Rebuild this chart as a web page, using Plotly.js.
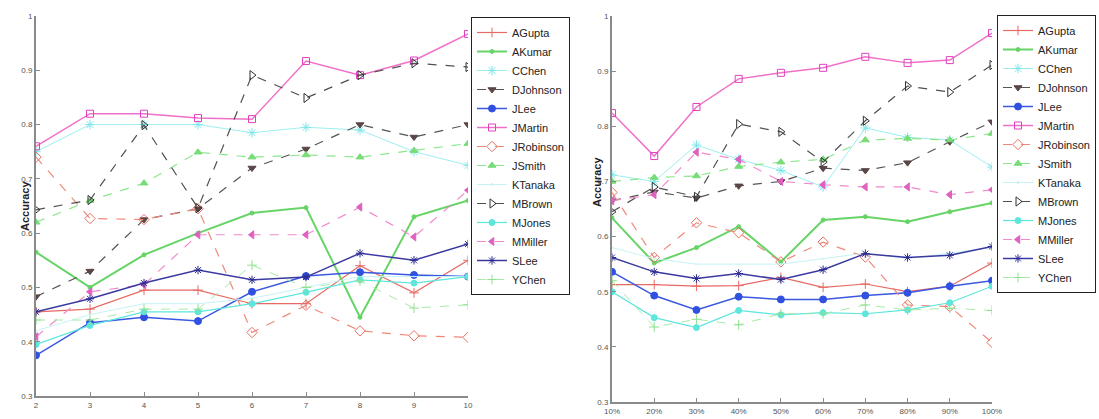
<!DOCTYPE html>
<html>
<head>
<meta charset="utf-8">
<script src="https://cdn.plot.ly/plotly-3.0.1.min.js"></script>
<style>html,body{margin:0;padding:0;background:#fff;}#chart{width:1099px;height:419px;}</style>
</head>
<body>
<div id="chart"></div>
<script>
// ---- data ----
const names = ["AGupta","AKumar","CChen","DJohnson","JLee","JMartin","JRobinson","JSmith","KTanaka","MBrown","MJones","MMiller","SLee","YChen"];

// left plot: x = 2..10
const xLeft = [2,3,4,5,6,7,8,9,10];
const aguptaL    = [0.455,0.46,0.495,0.495,0.47,0.47,0.54,0.49,0.55];
const akumarL    = [0.565,0.50,0.56,0.60,0.637,0.647,0.445,0.63,0.66];
const cchenL     = [0.75,0.80,0.80,0.80,0.785,0.795,0.79,0.75,0.725];
const djohnsonL  = [0.483,0.53,0.625,0.645,0.72,0.755,0.80,0.777,0.80];
const jleeL      = [0.375,0.435,0.445,0.438,0.492,0.521,0.528,0.523,0.52];
const jmartinL   = [0.76,0.82,0.82,0.812,0.81,0.917,0.891,0.918,0.967];
const jrobinsonL = [0.74,0.627,0.625,0.645,0.417,0.467,0.42,0.411,0.408];
const jsmithL    = [0.62,0.66,0.692,0.749,0.74,0.744,0.74,0.752,0.765];
const ktanakaL   = [0.42,0.45,0.47,0.47,0.48,0.50,0.52,0.52,0.52];
const mbrownL    = [0.643,0.661,0.799,0.646,0.891,0.849,0.891,0.913,0.906];
const mjonesL    = [0.395,0.43,0.455,0.455,0.47,0.491,0.514,0.508,0.52];
const mmillerL   = [0.409,0.492,0.505,0.597,0.597,0.597,0.648,0.593,0.679];
const sleeL      = [0.455,0.479,0.508,0.532,0.514,0.519,0.563,0.55,0.58];
const ychenL     = [0.44,0.44,0.46,0.46,0.541,0.50,0.512,0.462,0.468];

// right plot: percentages
const xRight = ["10%","20%","30%","40%","50%","60%","70%","80%","90%","100%"];
const aguptaR    = [0.513,0.513,0.51,0.511,0.526,0.508,0.514,0.50,0.51,0.552];
const akumarR    = [0.634,0.552,0.58,0.618,0.554,0.63,0.636,0.627,0.645,0.661];
const cchenR     = [0.712,0.70,0.766,0.74,0.72,0.69,0.797,0.78,0.775,0.726];
const djohnsonR  = [0.665,0.681,0.67,0.692,0.70,0.724,0.72,0.734,0.772,0.808];
const jleeR      = [0.536,0.493,0.467,0.491,0.486,0.486,0.493,0.498,0.51,0.52];
const jmartinR   = [0.824,0.746,0.835,0.886,0.897,0.906,0.926,0.915,0.92,0.969];
const jrobinsonR = [0.68,0.562,0.625,0.607,0.554,0.59,0.563,0.476,0.473,0.408];
const jsmithR    = [0.70,0.707,0.71,0.727,0.735,0.74,0.775,0.778,0.775,0.787];
const ktanakaR   = [0.58,0.56,0.55,0.55,0.55,0.56,0.57,0.56,0.57,0.58];
const mbrownR    = [0.645,0.69,0.672,0.804,0.79,0.735,0.81,0.873,0.862,0.911];
const mjonesR    = [0.50,0.453,0.435,0.466,0.458,0.462,0.46,0.467,0.48,0.51];
const mmillerR   = [0.665,0.676,0.753,0.74,0.70,0.694,0.69,0.69,0.676,0.685];
const sleeR      = [0.562,0.536,0.524,0.533,0.522,0.54,0.569,0.562,0.566,0.582];
const ychenR     = [0.52,0.436,0.45,0.44,0.46,0.46,0.476,0.467,0.47,0.466];

const yTicks = [0.3,0.4,0.5,0.6,0.7,0.8,0.9,1];
const yTickText = ["0.3","0.4","0.5","0.6","0.7","0.8","0.9","1"];

const leftData  = [aguptaL,akumarL,cchenL,djohnsonL,jleeL,jmartinL,jrobinsonL,jsmithL,ktanakaL,mbrownL,mjonesL,mmillerL,sleeL,ychenL];
const rightData = [aguptaR,akumarR,cchenR,djohnsonR,jleeR,jmartinR,jrobinsonR,jsmithR,ktanakaR,mbrownR,mjonesR,mmillerR,sleeR,ychenR];

// ---- styles ----
const styles = {
  AGupta:   {color:"#e86a64", dash:"solid", width:1.2, symbol:"cross-thin-open", size:7, mcolor:"#e86a64"},
  AKumar:   {color:"#66d466", dash:"solid", width:2,   symbol:"circle", size:4, mcolor:"#66d466"},
  CChen:    {color:"#9eeef0", dash:"solid", width:1,   symbol:"asterisk-open", size:8, mcolor:"#7ee6ea"},
  DJohnson: {color:"#555555", dash:"dash",  width:1.2, symbol:"triangle-down", size:7, mcolor:"#5a4646"},
  JLee:     {color:"#3a58e0", dash:"solid", width:1.5, symbol:"circle", size:7, mcolor:"#3050e0"},
  JMartin:  {color:"#f070c8", dash:"solid", width:1.5, symbol:"square-open", size:7, mcolor:"#e040c0"},
  JRobinson:{color:"#f0887a", dash:"dash",  width:1.2, symbol:"diamond-open", size:8, mcolor:"#e87060"},
  JSmith:   {color:"#8ce68c", dash:"dash",  width:1.2, symbol:"triangle-up", size:7, mcolor:"#78dc78"},
  KTanaka:  {color:"#c8f2f4", dash:"solid", width:1,   symbol:"circle", size:1, mcolor:"#c8f2f4"},
  MBrown:   {color:"#505050", dash:"dash",  width:1.2, symbol:"triangle-right-open", size:8, mcolor:"#303030"},
  MJones:   {color:"#5ce6dc", dash:"solid", width:1.2, symbol:"circle", size:6, mcolor:"#5ce6dc"},
  MMiller:  {color:"#f08acb", dash:"dash",  width:1.2, symbol:"triangle-left", size:7, mcolor:"#e060c0"},
  SLee:     {color:"#3a3aa0", dash:"solid", width:1.5, symbol:"asterisk-open", size:7, mcolor:"#2a2a90"},
  YChen:    {color:"#a8eaa8", dash:"dash",  width:1,   symbol:"cross-thin-open", size:7, mcolor:"#90e090"}
};

const traces = [];
names.forEach((n,i) => {
  const s = styles[n];
  traces.push({
    x: xLeft, y: leftData[i], name: n, type: "scatter", mode: "lines+markers",
    xaxis: "x", yaxis: "y", legend: "legend",
    line: {color: s.color, dash: s.dash, width: s.width},
    marker: {symbol: s.symbol, size: s.size, color: s.mcolor, line: {color: s.mcolor, width: 1}}
  });
});
names.forEach((n,i) => {
  const s = styles[n];
  traces.push({
    x: xRight, y: rightData[i], name: n, type: "scatter", mode: "lines+markers",
    xaxis: "x2", yaxis: "y2", legend: "legend2",
    line: {color: s.color, dash: s.dash, width: s.width},
    marker: {symbol: s.symbol, size: s.size, color: s.mcolor, line: {color: s.mcolor, width: 1}}
  });
});

const W = 1099, H = 419;
const axisCommon = {
  showgrid: false, zeroline: false, showline: true, linecolor: "#8a8a8a", linewidth: 2,
  ticks: "inside", ticklen: 4, tickcolor: "#8a8a8a", tickwidth: 1,
  tickfont: {family: "Liberation Sans, Arial, sans-serif", size: 8, color: "#555"}
};

const layout = {
  width: W, height: H,
  margin: {l: 0, r: 0, t: 0, b: 0, autoexpand: false},
  paper_bgcolor: "#fff", plot_bgcolor: "#fff",
  showlegend: true,
  xaxis: Object.assign({}, axisCommon, {domain: [36/W, 468/W], range: [2,10], tickvals: xLeft, anchor: "y"}),
  yaxis: Object.assign({}, axisCommon, {domain: [1-396/H, 1-16/H], range: [0.3,1], tickvals: yTicks, ticktext: yTickText, anchor: "x"}),
  xaxis2: Object.assign({}, axisCommon, {domain: [612/W, 992/W], type: "category", range: [0,9], anchor: "y2"}),
  yaxis2: Object.assign({}, axisCommon, {domain: [1-402/H, 1-16/H], range: [0.3,1], tickvals: yTicks, ticktext: yTickText, anchor: "x2"}),
  legend: {x: 471/W, y: 1-17/H, xanchor: "left", yanchor: "top", bgcolor: "#fff", bordercolor: "#222", borderwidth: 1,
           font: {family: "Liberation Sans, Arial, sans-serif", size: 11, color: "#222"}, itemwidth: 30, tracegroupgap: 0},
  legend2: {x: 997/W, y: 1-15/H, xanchor: "left", yanchor: "top", bgcolor: "#fff", bordercolor: "#222", borderwidth: 1,
           font: {family: "Liberation Sans, Arial, sans-serif", size: 11, color: "#222"}, itemwidth: 30, tracegroupgap: 0},
  annotations: [
    {text: "<b>Accuracy</b>", textangle: -90, xref: "paper", yref: "paper", x: 17/W, y: 1-206/H, showarrow: false,
     font: {family: "Liberation Sans, Arial, sans-serif", size: 11, color: "#222"}},
    {text: "<b>Accuracy</b>", textangle: -90, xref: "paper", yref: "paper", x: 597/W, y: 1-182/H, showarrow: false,
     font: {family: "Liberation Sans, Arial, sans-serif", size: 11, color: "#222"}}
  ]
};

Plotly.newPlot("chart", traces, layout, {displayModeBar: false, staticPlot: true});
</script>
</body>
</html>
